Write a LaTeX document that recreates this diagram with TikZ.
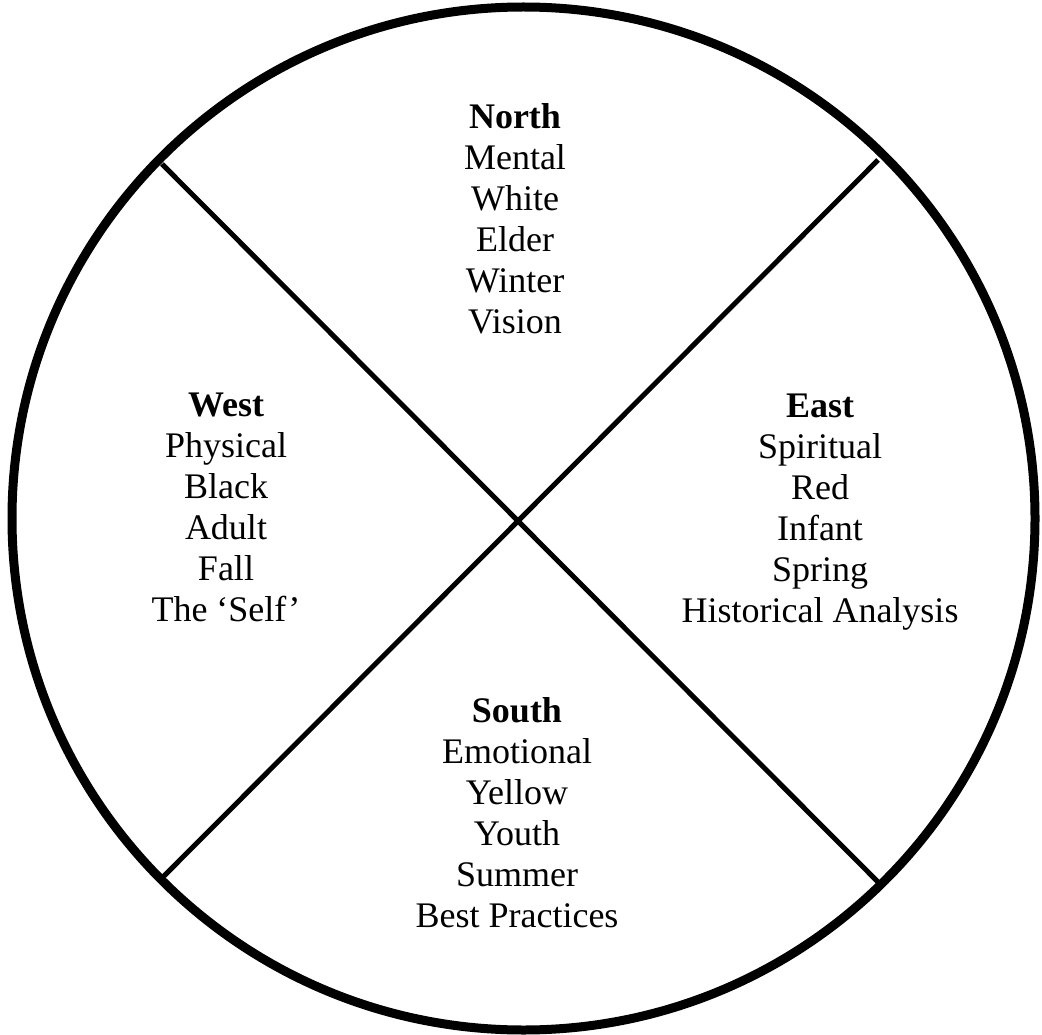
\documentclass[tikz,border=0pt]{standalone}
\usepackage{fontspec}
\setmainfont{Liberation Serif}
\begin{document}
\begin{tikzpicture}[x=1pt,y=-1pt,
  wheel/.style={draw=black,line width=9pt,circle,inner sep=0pt,minimum size=1023pt},
  spoke/.style={draw=black,line width=5pt},
  quarter/.style={align=center,inner sep=0pt,anchor=north,font=\fontsize{36}{41}\selectfont}]
\useasboundingbox (0,0) rectangle (1042,1035);
\node[wheel] (w) at (523.5,518.5) {};
\coordinate (tl) at (162,164);
\coordinate (br) at (880,884);
\coordinate (tr) at (878,160);
\coordinate (bl) at (163,877);
\draw[spoke] (tl) -- (br);
\draw[spoke] (tr) -- (bl);
\node[quarter] (north) at (515,103.6) {\textbf{North}\\Mental\\White\\Elder\\Winter\\Vision};
\node[quarter] (east) at (820,393.6) {\textbf{East}\\Spiritual\\Red\\Infant\\Spring\\Historical Analysis};
\node[quarter] (west) at (226,392.6) {\textbf{West}\\Physical\\Black\\Adult\\Fall\\The ‘Self’};
\node[quarter] (south) at (517,697.6) {\textbf{South}\\Emotional\\Yellow\\Youth\\Summer\\Best Practices};
\end{tikzpicture}
\end{document}
